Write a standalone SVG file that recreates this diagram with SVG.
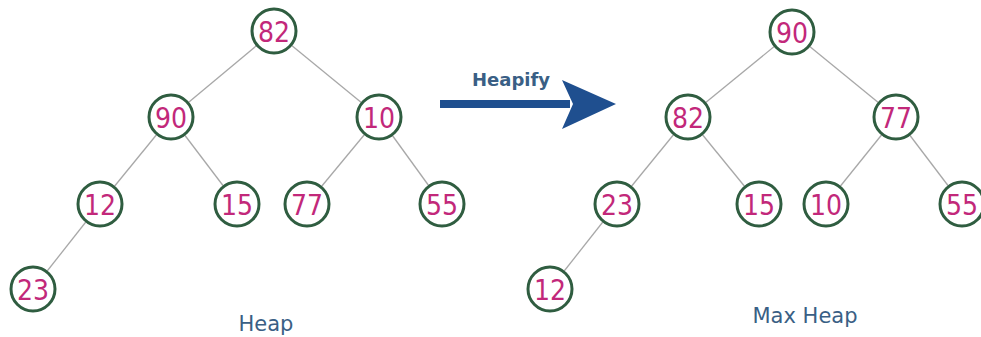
<svg xmlns="http://www.w3.org/2000/svg" width="981" height="337" viewBox="0 0 981 337">
<style>
.n circle{fill:#fff;stroke:#2f5d40;stroke-width:3}
.n text{font-family:"DejaVu Sans Condensed","DejaVu Sans",sans-serif;font-stretch:condensed;font-size:28px;fill:#c2287a;text-anchor:middle;dominant-baseline:central}
.e line{stroke:#a8a8a8;stroke-width:1.3}
.lbl{font-family:"DejaVu Sans",Verdana,sans-serif;fill:#3a5f85;text-anchor:middle}
</style>
<rect width="981" height="337" fill="#fff"/>
<g id="connectors" class="e">
<line x1="274" y1="31" x2="171" y2="117"/>
<line x1="274" y1="31" x2="379" y2="117"/>
<line x1="171" y1="117" x2="100" y2="204"/>
<line x1="171" y1="117" x2="237" y2="204"/>
<line x1="379" y1="117" x2="307" y2="204"/>
<line x1="379" y1="117" x2="442" y2="204"/>
<line x1="100" y1="204" x2="33" y2="289"/>
<line x1="792" y1="32" x2="688" y2="117"/>
<line x1="792" y1="32" x2="896" y2="117"/>
<line x1="688" y1="117" x2="617" y2="204"/>
<line x1="688" y1="117" x2="759" y2="204"/>
<line x1="896" y1="117" x2="826" y2="204"/>
<line x1="896" y1="117" x2="962" y2="204"/>
<line x1="617" y1="204" x2="550" y2="289"/>
</g>
<g id="L82" class="n"><circle cx="274" cy="31" r="22"/><text x="274" y="32">82</text></g>
<g id="L90" class="n"><circle cx="171" cy="117" r="22"/><text x="171" y="118">90</text></g>
<g id="L10" class="n"><circle cx="379" cy="117" r="22"/><text x="379" y="118">10</text></g>
<g id="L12" class="n"><circle cx="100" cy="204" r="22"/><text x="100" y="205">12</text></g>
<g id="L15" class="n"><circle cx="237" cy="204" r="22"/><text x="237" y="205">15</text></g>
<g id="L77" class="n"><circle cx="307" cy="204" r="22"/><text x="307" y="205">77</text></g>
<g id="L55" class="n"><circle cx="442" cy="204" r="22"/><text x="442" y="205">55</text></g>
<g id="L23" class="n"><circle cx="33" cy="289" r="22"/><text x="33" y="290">23</text></g>
<g id="R90" class="n"><circle cx="792" cy="32" r="22"/><text x="792" y="33">90</text></g>
<g id="R82" class="n"><circle cx="688" cy="117" r="22"/><text x="688" y="118">82</text></g>
<g id="R77" class="n"><circle cx="896" cy="117" r="22"/><text x="896" y="118">77</text></g>
<g id="R23" class="n"><circle cx="617" cy="204" r="22"/><text x="617" y="205">23</text></g>
<g id="R15" class="n"><circle cx="759" cy="204" r="22"/><text x="759" y="205">15</text></g>
<g id="R10" class="n"><circle cx="826" cy="204" r="22"/><text x="826" y="205">10</text></g>
<g id="R55" class="n"><circle cx="962" cy="204" r="22"/><text x="962" y="205">55</text></g>
<g id="R12" class="n"><circle cx="550" cy="289" r="22"/><text x="550" y="290">12</text></g>
<g id="arrow">
<rect x="440" y="100" width="130" height="8" fill="#1f4f8f"/>
<path d="M562 80 L616 104 L562 129 L573 104 Z" fill="#1f4f8f"/>
<text class="lbl" x="511" y="86" font-size="18" font-weight="bold">Heapify</text>
</g>
<text class="lbl" x="266" y="331" font-size="21">Heap</text>
<text class="lbl" x="805" y="323" font-size="21">Max Heap</text>
</svg>
